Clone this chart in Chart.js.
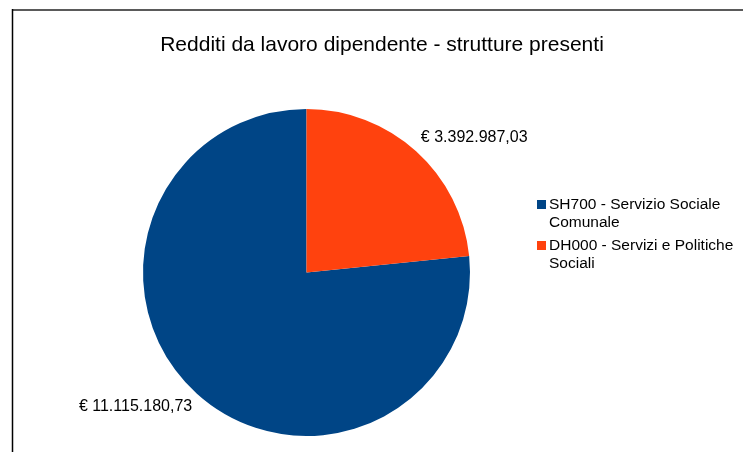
<!DOCTYPE html>
<html>
<head>
<meta charset="utf-8">
<script src="https://cdn.jsdelivr.net/npm/chart.js@4"></script>
<style>
  html, body { margin: 0; padding: 0; background: #fff; }
  #wrap { width: 743px; height: 452px; }
</style>
</head>
<body>
<div id="wrap"><canvas id="chart-redditi"></canvas></div>
<script>
const titleText = 'Redditi da lavoro dipendente - strutture presenti';
const categories = [
  ['SH700 - Servizio Sociale', 'Comunale'],
  ['DH000 - Servizi e Politiche', 'Sociali']
];
const values = [11115180.73, 3392987.03];
const valueLabels = ['€ 11.115.180,73', '€ 3.392.987,03'];
const colors = ['#004586', '#ff420e'];

const total = values.reduce((a, b) => a + b, 0);
// orange slice starts at 12 o'clock, so shift the blue one after it
const startAngle = values[1] / total * 360;

const FONT = "'Liberation Sans', Arial, sans-serif";

const decorations = {
  id: 'decorations',
  beforeDraw(chart) {
    const { ctx } = chart;
    ctx.save();
    // frame (top + left edge)
    ctx.strokeStyle = '#5a5a5a';
    ctx.lineWidth = 2;
    ctx.beginPath();
    ctx.moveTo(12, 10);
    ctx.lineTo(743, 10);
    ctx.stroke();
    ctx.strokeStyle = '#000';
    ctx.lineWidth = 1.5;
    ctx.beginPath();
    ctx.moveTo(12.5, 9);
    ctx.lineTo(12.5, 452);
    ctx.stroke();

    // title
    ctx.fillStyle = '#000';
    ctx.font = `21px ${FONT}`;
    ctx.textAlign = 'center';
    ctx.textBaseline = 'middle';
    ctx.fillText(titleText, 382, 45);
    ctx.restore();
  },
  afterDraw(chart) {
    const { ctx } = chart;
    const meta = chart.getDatasetMeta(0);
    ctx.save();

    // value labels outside the slices
    ctx.font = `16px ${FONT}`;
    ctx.fillStyle = '#000';
    meta.data.forEach((arc, i) => {
      const { x, y, startAngle: a0, endAngle: a1, outerRadius } = arc.getProps(['x', 'y', 'startAngle', 'endAngle', 'outerRadius'], true);
      const mid = (a0 + a1) / 2;
      const dx = Math.cos(mid), dy = Math.sin(mid);
      const r = outerRadius + 7;
      ctx.textAlign = dx >= 0 ? 'left' : 'right';
      ctx.textBaseline = dy >= 0 ? 'top' : 'bottom';
      ctx.fillText(valueLabels[i], x + dx * r, y + dy * r);
    });

    // legend
    let ly = 205;
    chart.data.labels.forEach((lines, i) => {
      ctx.fillStyle = colors[i];
      ctx.fillRect(537, ly - 5, 9, 9);
      ctx.fillStyle = '#000';
      ctx.textAlign = 'left';
      ctx.textBaseline = 'middle';
      ctx.font = `15.5px ${FONT}`;
      lines.forEach((line, k) => {
        ctx.fillText(line, 549, ly + k * 18);
      });
      ly += lines.length * 18 + 5;
    });
    ctx.restore();
  }
};

new Chart(document.getElementById('chart-redditi'), {
  type: 'pie',
  data: {
    labels: categories,
    datasets: [{
      data: values,
      backgroundColor: colors,
      borderWidth: 0,
      hoverOffset: 0,
      offset: 0
    }]
  },
  options: {
    responsive: true,
    maintainAspectRatio: false,
    animation: false,
    rotation: startAngle,
    layout: {
      padding: { left: 143, right: 273, top: 109, bottom: 16 }
    },
    plugins: {
      legend: { display: false },
      title: { display: false },
      tooltip: { enabled: false }
    }
  },
  plugins: [decorations]
});
</script>
</body>
</html>
